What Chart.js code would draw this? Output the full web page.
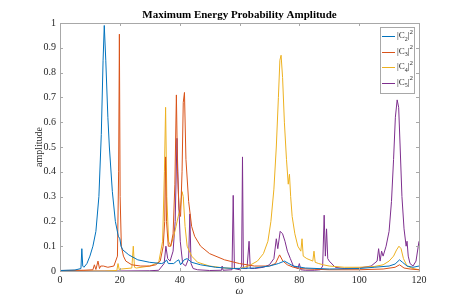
<!DOCTYPE html>
<html>
<head>
<meta charset="utf-8">
<script src="https://cdn.jsdelivr.net/npm/chart.js@4.4.1/dist/chart.umd.min.js"></script>
<style>
  html, body { margin: 0; padding: 0; background: #fff; }
</style>
</head>
<body>
<canvas id="chart" width="463" height="305"></canvas>
<script>
// values
const c2W = [0,5,7,7.3,7.6,8,9,10,11,12,13,13.8,14.4,14.8,15.3,16,16.5,17.5,18.5,19.5,20,20.4,21,23,26,30,34,35,35.6,36.2,38,39,39.7,40.3,41.5,42.5,44,47,52,58,65,70,73,75,76.5,78,82,90,100,105,110,112,113.5,114.5,116,118,120];
const c2A = [0.002,0.004,0.01,0.09,0.02,0.015,0.03,0.06,0.1,0.16,0.3,0.55,0.85,0.99,0.85,0.62,0.5,0.32,0.2,0.14,0.13,0.1,0.085,0.065,0.045,0.035,0.03,0.035,0.045,0.03,0.03,0.04,0.045,0.025,0.045,0.05,0.035,0.025,0.015,0.01,0.012,0.02,0.03,0.04,0.03,0.02,0.012,0.008,0.01,0.015,0.02,0.028,0.045,0.035,0.02,0.015,0.02];

const c3W = [0,8,11,11.5,12,12.7,13.2,13.6,14.5,16,18,19.2,19.6,19.85,20.1,20.5,21.2,22,24,27,30,32,33.5,34.5,35,35.3,35.6,36.2,37,37.8,38.4,38.9,39.3,39.8,40.3,40.8,41.2,41.6,42.1,43,44,45,47,50,55,60,65,70,72,73.4,74.5,76,78,80,85,90,100,108,112,113.5,115,117,120];
const c3A = [0.002,0.003,0.005,0.025,0.006,0.04,0.01,0.02,0.02,0.015,0.02,0.06,0.4,0.955,0.3,0.1,0.06,0.04,0.025,0.02,0.02,0.025,0.04,0.1,0.2,0.46,0.2,0.1,0.1,0.15,0.35,0.71,0.4,0.25,0.22,0.4,0.68,0.72,0.45,0.28,0.18,0.14,0.1,0.07,0.045,0.03,0.02,0.02,0.03,0.065,0.04,0.025,0.015,0.01,0.007,0.005,0.005,0.008,0.015,0.025,0.012,0.008,0.005];

const c4W = [0,15,19,19.4,19.8,20.5,24,24.5,24.9,25.5,30,33,34.3,34.9,35.3,35.7,36.3,37,38,38.8,39.5,40.2,40.8,41.2,41.8,42.5,44,46,50,55,60,63,66,68,69.5,70.5,71.5,72.3,73,73.5,73.9,74.4,75,75.7,76.3,76.7,77.1,77.6,78.5,79.5,80.5,80.9,81.3,82.5,84.5,84.9,85.3,86.5,88,90,95,100,105,108,110,111.5,112.5,113.3,114,114.8,116,118,120];
const c4A = [0,0,0.002,0.03,0.005,0.008,0.012,0.1,0.015,0.012,0.02,0.035,0.12,0.4,0.66,0.3,0.12,0.1,0.14,0.18,0.22,0.25,0.32,0.3,0.18,0.1,0.06,0.035,0.02,0.012,0.01,0.02,0.04,0.07,0.12,0.2,0.33,0.5,0.7,0.85,0.87,0.78,0.6,0.45,0.35,0.39,0.3,0.22,0.15,0.1,0.08,0.13,0.06,0.05,0.04,0.08,0.035,0.03,0.025,0.02,0.015,0.015,0.018,0.025,0.04,0.06,0.085,0.1,0.09,0.05,0.02,0.01,0.005];

const c5W = [0,20,30,33,34.8,35.4,36,36.8,37.8,38.5,39.1,39.6,40.2,41,42,43,43.4,43.8,44.5,46,50,54,54.2,54.5,57.5,57.9,58.3,60,60.7,61,61.3,62.5,63.2,63.6,65,68,70,71.5,72.3,72.8,73.6,74.4,75.2,76,77,78,79.5,80,80.5,82,85,87,87.8,88.3,88.7,89.1,89.5,90,92,95,100,104,106,106.5,107,107.5,108,109,110,110.8,111.5,112.1,112.7,113.2,113.7,114.3,115,115.7,116,116.4,117,118,119,120];
const c5A = [0,0,0.001,0.003,0.03,0.1,0.05,0.04,0.08,0.2,0.535,0.3,0.12,0.03,0.02,0.05,0.23,0.03,0.01,0.005,0.002,0.003,0.02,0.003,0.005,0.305,0.01,0.005,0.02,0.46,0.01,0.01,0.12,0.01,0.01,0.015,0.025,0.05,0.13,0.09,0.16,0.15,0.12,0.08,0.05,0.02,0.01,0.03,0.005,0.003,0.003,0.005,0.02,0.225,0.06,0.17,0.05,0.04,0.015,0.01,0.012,0.02,0.04,0.09,0.04,0.08,0.06,0.1,0.16,0.28,0.45,0.62,0.69,0.66,0.5,0.3,0.17,0.1,0.12,0.06,0.03,0.02,0.04,0.12];

const seriesSubs = ['2', '3', '4', '5'];
const seriesColors = ['#0072BD', '#D95319', '#EDB120', '#7E2F8E'];
const xTicks = [0, 20, 40, 60, 80, 100, 120];
const yTicks = [0, 0.1, 0.2, 0.3, 0.4, 0.5, 0.6, 0.7, 0.8, 0.9, 1];
const chartTitle = 'Maximum Energy Probability Amplitude';

const serif = '"Liberation Serif", "Times New Roman", serif';
const axisColor = '#a8a8a8';
const textColor = '#262626';

function toPoints(ws, as) {
    return ws.map((w, i) => ({ x: w, y: as[i] }));
}

const allW = [c2W, c3W, c4W, c5W];
const allA = [c2A, c3A, c4A, c5A];

const datasets = allW.map((ws, i) => ({
    label: '|C' + seriesSubs[i] + '|^2',
    data: toPoints(ws, allA[i]),
    borderColor: seriesColors[i],
    borderWidth: 1,
    pointRadius: 0,
    tension: 0,
    fill: false
}));

// box around the axes with inward ticks, like matlab
const boxPlugin = {
    id: 'box',
    afterDatasetsDraw(chart) {
        const { ctx, chartArea: a, scales: { x, y } } = chart;
        ctx.save();
        ctx.strokeStyle = axisColor;
        ctx.lineWidth = 1;
        ctx.strokeRect(Math.round(a.left) + 0.5, Math.round(a.top) + 0.5,
            Math.round(a.right - a.left), Math.round(a.bottom - a.top));
        ctx.beginPath();
        xTicks.forEach(v => {
            const px = Math.round(x.getPixelForValue(v)) + 0.5;
            ctx.moveTo(px, a.bottom); ctx.lineTo(px, a.bottom - 3);
            ctx.moveTo(px, a.top); ctx.lineTo(px, a.top + 3);
        });
        yTicks.forEach(v => {
            const py = Math.round(y.getPixelForValue(v)) + 0.5;
            ctx.moveTo(a.left, py); ctx.lineTo(a.left + 3, py);
            ctx.moveTo(a.right, py); ctx.lineTo(a.right - 3, py);
        });
        ctx.stroke();
        ctx.restore();
    },
    afterDraw(chart) {
        const { ctx, chartArea: a } = chart;
        ctx.save();
        // title
        ctx.fillStyle = '#000';
        ctx.font = 'bold 11px ' + serif;
        ctx.textAlign = 'center';
        ctx.textBaseline = 'middle';
        ctx.fillText(chartTitle, (a.left + a.right) / 2, 15);

        // legend box
        const bx = 380, by = 27, bw = 34, bh = 66;
        ctx.fillStyle = '#fff';
        ctx.fillRect(bx, by, bw, bh);
        ctx.strokeStyle = axisColor;
        ctx.strokeRect(bx + 0.5, by + 0.5, bw, bh);
        ctx.textAlign = 'left';
        seriesSubs.forEach((s, i) => {
            const ly = 36 + i * 15.5;
            ctx.strokeStyle = seriesColors[i];
            ctx.lineWidth = 1;
            ctx.beginPath();
            ctx.moveTo(382, Math.round(ly) + 0.5);
            ctx.lineTo(395, Math.round(ly) + 0.5);
            ctx.stroke();
            ctx.fillStyle = textColor;
            let tx = 397;
            ctx.font = '9px ' + serif;
            ctx.fillText('|C', tx, ly);
            tx += ctx.measureText('|C').width;
            ctx.font = '6px ' + serif;
            ctx.fillText(s, tx, ly + 3);
            tx += ctx.measureText(s).width;
            ctx.font = '9px ' + serif;
            ctx.fillText('|', tx, ly);
            tx += ctx.measureText('|').width;
            ctx.font = '7px ' + serif;
            ctx.fillText('2', tx, ly - 4);
        });
        ctx.restore();
    }
};

new Chart(document.getElementById('chart'), {
    type: 'line',
    data: { datasets: datasets },
    options: {
        responsive: false,
        animation: false,
        layout: { padding: { top: 23, right: 44, bottom: 0, left: 0 } },
        plugins: {
            legend: { display: false },
            tooltip: { enabled: false }
        },
        scales: {
            x: {
                type: 'linear',
                min: 0,
                max: 120,
                grid: { display: false, drawTicks: false },
                border: { display: false },
                afterFit: s => { s.height = 34; },
                afterBuildTicks: s => { s.ticks = xTicks.map(v => ({ value: v })); },
                ticks: {
                    padding: 3,
                    maxRotation: 0,
                    color: textColor,
                    font: { family: serif, size: 10 }
                },
                title: {
                    display: true,
                    text: 'ω',
                    color: textColor,
                    padding: { top: 0, bottom: 7 },
                    font: { family: serif, size: 11, style: 'italic' }
                }
            },
            y: {
                min: 0,
                max: 1,
                grid: { display: false, drawTicks: false },
                border: { display: false },
                afterFit: s => { s.width = 60; },
                afterBuildTicks: s => { s.ticks = yTicks.map(v => ({ value: v })); },
                ticks: {
                    padding: 4,
                    color: textColor,
                    font: { family: serif, size: 10 },
                    callback: v => String(Math.round(v * 10) / 10)
                },
                title: {
                    display: true,
                    text: 'amplitude',
                    color: textColor,
                    padding: { top: 33, bottom: 0 },
                    font: { family: serif, size: 10 }
                }
            }
        }
    },
    plugins: [boxPlugin]
});
</script>
</body>
</html>
